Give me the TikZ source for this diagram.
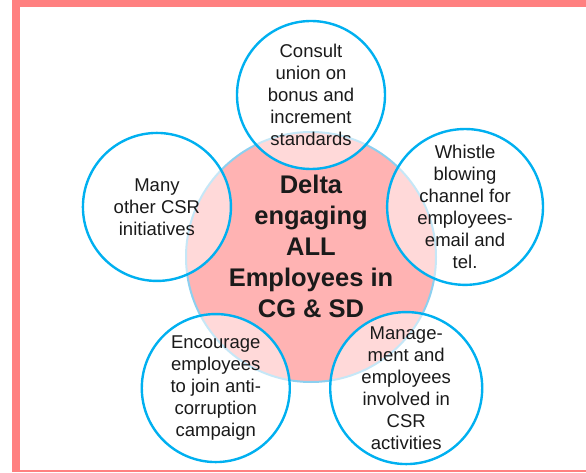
\documentclass[tikz,border=0pt]{standalone}
\usepackage{fontspec}
\setmainfont{Liberation Sans}
\usetikzlibrary{calc}

\definecolor{framepink}{RGB}{255,128,128}
\definecolor{hubfill}{RGB}{255,179,179}
\definecolor{hubline}{RGB}{140,208,240}
\definecolor{ringline}{RGB}{0,176,240}
\definecolor{txt}{RGB}{26,26,26}

\begin{document}
\begin{tikzpicture}[
		x=1pt, y=1pt,
		every node/.style={text=txt, align=center},
		hub/.style={circle, draw=hubline, line width=2pt, fill=hubfill, minimum size=250pt, inner sep=0pt},
		hub text/.style={font=\bfseries\fontsize{25.5}{31}\selectfont},
		sat/.style={circle, draw=ringline, line width=2.4pt, fill=white, fill opacity=0.5, text opacity=1, minimum size=148pt, inner sep=0pt, font=\fontsize{18.5}{22}\selectfont}
		]
	\useasboundingbox (0,0) rectangle (586,472);
	
	% Frame
	\fill[framepink] (12,0) rectangle (20,472);
	\fill[framepink] (12,465) rectangle (586,472);
	\fill[framepink] (20,0) rectangle (586,2);
	
	% Hub
	\node[hub] (hub) at (311,215) {};
	\node[hub text] (hubtext) at ($(hub)+(0,11)$) {Delta\\engaging\\ALL\\Employees in\\CG \& SD};
	
	% Satellites
	\foreach \ang/\nm/\txt in {
		90/consult/{Consult\\union on\\bonus and\\increment\\standards},
		18/whistle/{Whistle\\blowing\\channel for\\employees-\\email and\\tel.},
		-54/manage/{Manage-\\ment and\\employees\\involved in\\CSR\\activities},
		-126/encourage/{Encourage\\employees\\to join anti-\\corruption\\campaign},
		162/many/{Many\\other CSR\\initiatives}}{
		\node[sat] (\nm) at ($(hub)+(\ang:162)$) {\txt};
	}
	
\end{tikzpicture}
\end{document}
